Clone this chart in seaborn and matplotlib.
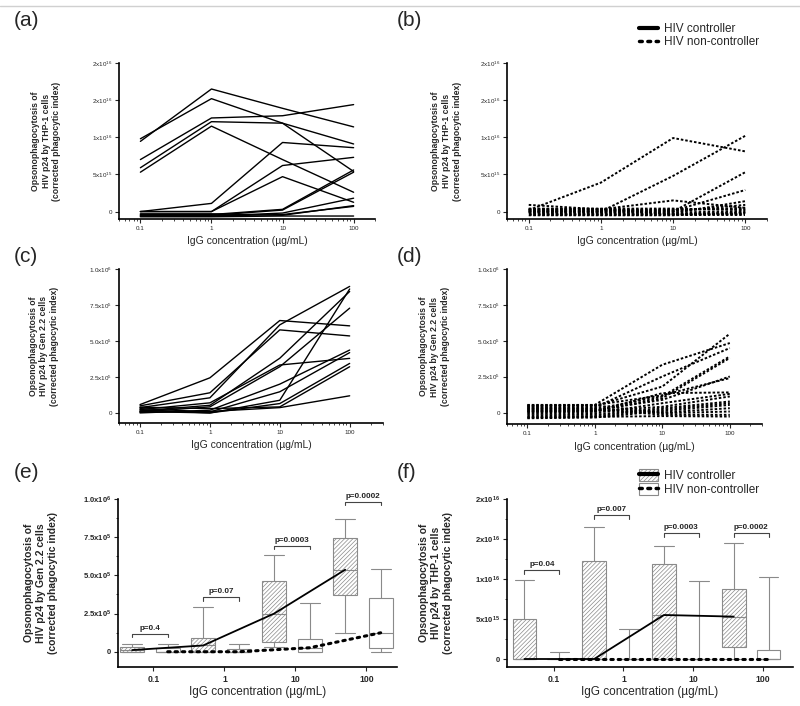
import matplotlib
matplotlib.use('Agg')
import numpy as np
import pandas as pd
import matplotlib.pyplot as plt
import seaborn as sns
from matplotlib.lines import Line2D
from matplotlib.patches import Patch

sns.set_style('ticks')
plt.rcParams['font.family'] = ['Liberation Sans', 'DejaVu Sans']
plt.rcParams['mathtext.default'] = 'regular'
plt.rcParams['hatch.linewidth'] = 0.5

# ---------------- data ----------------
conc = [0.1, 1, 10, 100]
conc_labels = ['0.1', '1', '10', '100']

thp_ticks = [0, 5e15, 1e16, 1.5e16, 2e16]
thp_labels = ['0', '5x10$^{15}$', '1x10$^{16}$', '2x10$^{16}$', '2x10$^{16}$']
gen_ticks = [0, 2.5e5, 5e5, 7.5e5, 1e6]
gen_labels = ['0', '2.5x10$^{5}$', '5.0x10$^{5}$', '7.5x10$^{5}$', '1.0x10$^{6}$']

# (a) THP-1, HIV controllers
a_ctrl = [
    [9.45e15, 1.65e16, 1.39e16, 1.14e16],
    [9.8e15, 1.52e16, 1.19e16, 5.4e15],
    [7.0e15, 1.26e16, 1.29e16, 1.44e16],
    [5.9e15, 1.21e16, 1.19e16, 9.1e15],
    [5.3e15, 1.15e16, 7.0e15, 2.6e15],
    [0.0, 1.1e15, 9.3e15, 8.6e15],
    [0.0, 0.0, 6.2e15, 7.3e15],
    [0.0, 0.0, 4.7e15, 1.25e15],
    [-4e14, -4e14, 3e14, 5.6e15],
    [-5e14, -5e14, 2e14, 5.3e15],
    [-6e14, -6e14, -2e14, 1.8e15],
    [-6e14, -6e14, -4e14, 7e14],
    [-7e14, -7e14, -6e14, -6e14],
    [-3e14, -3e14, -5e14, 8e14],
]
# (b) THP-1, HIV non-controllers
b_nonctrl = [
    [9e14, 3e14, 1.5e15, 5e14],
    [2e14, 3.9e15, 9.9e15, 8.1e15],
    [0.0, 0.0, 4.8e15, 1.02e16],
    [0.0, 0.0, 0.0, 5.3e15],
    [1e14, 1e14, 1e14, 2.9e15],
    [-1e14, -1e14, -2e14, 1.4e15],
    [3e14, 3e14, 2e14, 5e14],
    [4e14, 4e14, 4e14, 2e14],
    [-2e14, -2e14, -1e14, 0.0],
    [-3e14, -3e14, -3e14, -3e14],
    [-4e14, -4e14, -4e14, -4e14],
    [2e14, 2e14, 3e14, 3e14],
    [-5e14, -5e14, -5e14, -2e14],
    [3.5e14, 3.5e14, -3.5e14, -1e14],
    [5e13, 5e13, 5e13, 9e14],
]
# (c) Gen 2.2, HIV controllers
c_ctrl = [
    [58e3, 244e3, 642e3, 605e3],
    [49e3, 140e3, 577e3, 535e3],
    [37e3, 105e3, 612e3, 879e3],
    [23e3, 70e3, 333e3, 379e3],
    [14e3, 53e3, 380e3, 844e3],
    [7e3, 42e3, 321e3, 728e3],
    [0.0, 19e3, 200e3, 437e3],
    [30e3, 7e3, 147e3, 419e3],
    [10e3, 0.0, 88e3, 861e3],
    [20e3, 0.0, 65e3, 344e3],
    [40e3, 30e3, 42e3, 321e3],
    [5e3, 10e3, 37e3, 119e3],
]
# (d) Gen 2.2, HIV non-controllers
d_nonctrl = [
    [53e3, 53e3, 333e3, 484e3],
    [40e3, 45e3, 181e3, 549e3],
    [30e3, 35e3, 251e3, 449e3],
    [20e3, 25e3, 112e3, 391e3],
    [10e3, 15e3, 88e3, 251e3],
    [0.0, 5e3, 135e3, 140e3],
    [-10e3, -5e3, 65e3, 130e3],
    [-20e3, -15e3, 30e3, 77e3],
    [-30e3, -25e3, 20e3, 65e3],
    [-40e3, -35e3, 10e3, 53e3],
    [45e3, 50e3, 0.0, 30e3],
    [35e3, 30e3, -5e3, 7e3],
    [25e3, 20e3, -15e3, -16e3],
    [-35e3, -30e3, -25e3, -28e3],
    [5e3, 10e3, 40e3, 112e3],
    [50e3, 52e3, 120e3, 240e3],
    [15e3, 12e3, 100e3, 380e3],
]

# (e) Gen 2.2 box summaries
e_ctrl_lo = [0, 0, 30e3, 120e3]
e_ctrl_q1 = [0, 0, 63e3, 372e3]
e_ctrl_med = [11e3, 41e3, 250e3, 537e3]
e_ctrl_q3 = [33e3, 87e3, 463e3, 743e3]
e_ctrl_hi = [52e3, 290e3, 633e3, 867e3]
e_nc_lo = [0, 0, 0, 0]
e_nc_q1 = [0, 0, 0, 26e3]
e_nc_med = [0, 0, 26e3, 124e3]
e_nc_q3 = [26e3, 20e3, 83e3, 350e3]
e_nc_hi = [52e3, 52e3, 320e3, 543e3]
e_pvals = ['p=0.4', 'p=0.07', 'p=0.0003', 'p=0.0002']
e_bracket = [117e3, 357e3, 693e3, 983e3]

# (f) THP-1 box summaries
f_ctrl_lo = [0, 0, 0, 0]
f_ctrl_q1 = [0, 0, 0, 1.54e15]
f_ctrl_med = [0, 0, 5.5e15, 5.3e15]
f_ctrl_q3 = [5.05e15, 1.23e16, 1.19e16, 8.76e15]
f_ctrl_hi = [9.84e15, 1.65e16, 1.41e16, 1.45e16]
f_nc_lo = [0, 0, 0, 0]
f_nc_q1 = [0, 0, 0, 0]
f_nc_med = [0, 0, 0, 0]
f_nc_q3 = [0, 0, 0, 1.1e15]
f_nc_hi = [8.3e14, 3.7e15, 9.8e15, 1.02e16]
f_pvals = ['p=0.04', 'p=0.007', 'p=0.0003', 'p=0.0002']
f_bracket = [1.11e16, 1.8e16, 1.57e16, 1.57e16]

ylab_thp = 'Opsonophagocytosis of\nHIV p24 by THP-1 cells\n(corrected phagocytic index)'
ylab_gen = 'Opsonophagocytosis of\nHIV p24 by Gen 2.2 cells\n(corrected phagocytic index)'
xlab = 'IgG concentration (\u00b5g/mL)'

GREY = '#8a8a8a'
HATCH = '////////'
DOT = (0, (1.3, 1.0))

fig = plt.figure(figsize=(8, 7.06), dpi=100)
W, H = 800, 706


def add_ax(l, r, t, b):
    return fig.add_axes([l / W, 1 - b / H, (r - l) / W, (b - t) / H])


def style(ax, lab_size, bold):
    sns.despine(ax=ax)
    for s in ('left', 'bottom'):
        ax.spines[s].set_linewidth(1.2)
        ax.spines[s].set_color('black')
    ax.tick_params(which='major', length=3, width=0.8, labelsize=lab_size, pad=2)
    ax.tick_params(which='minor', length=1.6, width=0.6)
    if bold:
        for t in ax.get_xticklabels() + ax.get_yticklabels():
            t.set_fontweight('bold')


def line_panel(ax, series, ls, lw, xlim, ylim, yt, ytl, ylab, ylx):
    rows = [(i, c, v) for i, s in enumerate(series) for c, v in zip(conc, s)]
    df = pd.DataFrame(rows, columns=['id', 'conc', 'value'])
    sns.lineplot(data=df, x='conc', y='value', units='id', estimator=None,
                 color='black', lw=lw, linestyle=ls, ax=ax, legend=False)
    ax.set_xscale('log')
    ax.set_xlim(*xlim)
    ax.set_ylim(*ylim)
    ax.set_xticks(conc)
    ax.set_xticklabels(conc_labels)
    ax.set_yticks(yt)
    ax.set_yticklabels(ytl)
    ax.set_xlabel(xlab, fontsize=7.5, labelpad=4)
    ax.set_ylabel(ylab, fontsize=6.2, fontweight='bold', linespacing=1.25)
    ax.yaxis.set_label_coords(ylx, 0.5)
    style(ax, 4.5, False)


ax_a = add_ax(119, 375, 63, 219)
line_panel(ax_a, a_ctrl, '-', 1.0, (0.05, 200), (-1e15, 2e16), thp_ticks, thp_labels, ylab_thp, -0.225)
ax_b = add_ax(507, 767, 63, 219)
line_panel(ax_b, b_nonctrl, DOT, 1.4, (0.05, 200), (-1e15, 2e16), thp_ticks, thp_labels, ylab_thp, -0.175)
ax_c = add_ax(119, 383, 269, 423)
line_panel(ax_c, c_ctrl, '-', 1.0, (0.05, 300), (-7e4, 1e6), gen_ticks, gen_labels, ylab_gen, -0.227)
ax_d = add_ax(507, 762, 269, 424)
line_panel(ax_d, d_nonctrl, DOT, 1.4, (0.05, 300), (-8e4, 1e6), gen_ticks, gen_labels, ylab_gen, -0.224)


def stats(lo, q1, med, q3, hi):
    return [dict(whislo=a, q1=b, med=c, q3=d, whishi=e, fliers=[])
            for a, b, c, d, e in zip(lo, q1, med, q3, hi)]


def box_panel(ax, cst, nst, cmed, nmed, pvals, brk, tick_shift, xlim, ylim, yt, ytl, ylab, ylx, dy):
    idx = np.arange(len(conc))
    pc = idx - 0.25
    pn = idx + 0.25
    ax.bxp(cst, positions=pc, widths=0.34, capwidths=0.28, patch_artist=True,
           showfliers=False,
           boxprops=dict(facecolor='white', edgecolor=GREY, hatch=HATCH, lw=0.8),
           whiskerprops=dict(color=GREY, lw=0.8), capprops=dict(color=GREY, lw=0.8),
           medianprops=dict(color=GREY, lw=0.8))
    ax.bxp(nst, positions=pn, widths=0.34, capwidths=0.28, patch_artist=True,
           showfliers=False,
           boxprops=dict(facecolor='white', edgecolor=GREY, lw=0.8),
           whiskerprops=dict(color=GREY, lw=0.8), capprops=dict(color=GREY, lw=0.8),
           medianprops=dict(color=GREY, lw=0.8))
    sns.lineplot(x=pc, y=cmed, color='black', lw=1.3, ax=ax, zorder=4)
    sns.lineplot(x=pn, y=nmed, color='black', lw=2.2, linestyle=(0, (0.8, 1.6)),
                 dash_capstyle='round', ax=ax, zorder=4)
    for i in idx:
        h = brk[i]
        ax.plot([pc[i], pc[i], pn[i], pn[i]], [h - dy, h, h, h - dy], color='#444444',
                lw=0.8, clip_on=False)
        ax.text(idx[i], h + dy * 0.6, pvals[i], ha='center', va='bottom', fontsize=5.8,
                fontweight='bold', color='#222222')
    ax.set_xlim(*xlim)
    ax.set_ylim(*ylim)
    ax.set_xticks(idx + tick_shift)
    ax.set_xticklabels(conc_labels)
    ax.set_yticks(yt)
    ax.set_yticklabels(ytl)
    ax.set_yticks([(yt[k] + yt[k + 1]) / 2 for k in range(len(yt) - 1)], minor=True)
    ax.set_xlabel(xlab, fontsize=8.5, labelpad=1)
    ax.set_ylabel(ylab, fontsize=7.5, fontweight='bold', linespacing=1.25)
    ax.yaxis.set_label_coords(ylx, 0.5)
    style(ax, 5.5, True)
    ax.tick_params(axis='x', which='major', labelsize=6.2, pad=3)


ax_e = add_ax(118, 397, 499, 667)
box_panel(ax_e, stats(e_ctrl_lo, e_ctrl_q1, e_ctrl_med, e_ctrl_q3, e_ctrl_hi),
          stats(e_nc_lo, e_nc_q1, e_nc_med, e_nc_q3, e_nc_hi),
          e_ctrl_med, e_nc_med, e_pvals, e_bracket, 0.05, (-0.45, 3.48), (-1e5, 1e6),
          gen_ticks, gen_labels, ylab_gen, -0.215, 2.2e4)
ax_f = add_ax(507, 793, 499, 667)
box_panel(ax_f, stats(f_ctrl_lo, f_ctrl_q1, f_ctrl_med, f_ctrl_q3, f_ctrl_hi),
          stats(f_nc_lo, f_nc_q1, f_nc_med, f_nc_q3, f_nc_hi),
          f_ctrl_med, f_nc_med, f_pvals, f_bracket, 0.17, (-0.5, 3.6), (-1e15, 2e16),
          thp_ticks, thp_labels, ylab_thp, -0.19, 4.5e14)

# panel letters
for lab, x, y in [('(a)', 14, 11), ('(b)', 397, 11), ('(c)', 14, 247),
                  ('(d)', 397, 247), ('(e)', 14, 463), ('(f)', 397, 463)]:
    fig.text(x / W, 1 - y / H, lab, fontsize=15, ha='left', va='top')

# legends
h_ctrl = Line2D([], [], color='black', lw=3)
h_nc = Line2D([], [], color='black', lw=2.5, linestyle=(0, (0.8, 1.6)), dash_capstyle='round')
fig.legend([h_ctrl, h_nc], ['HIV controller', 'HIV non-controller'],
           loc='upper left', bbox_to_anchor=(632 / W, 1 - 16 / H), frameon=False,
           fontsize=8.5, handlelength=1.6, handletextpad=0.5, labelspacing=0.1,
           borderpad=0.1)
p_ctrl = Patch(facecolor='white', edgecolor=GREY, hatch=HATCH, lw=0.8)
p_nc = Patch(facecolor='white', edgecolor=GREY, lw=0.8)
fig.legend([(p_ctrl, h_ctrl), (p_nc, h_nc)], ['HIV controller', 'HIV non-controller'],
           loc='upper left', bbox_to_anchor=(632 / W, 1 - 462 / H), frameon=False,
           fontsize=8.5, handlelength=1.6, handleheight=1.2, handletextpad=0.5,
           labelspacing=0.1, borderpad=0.1)

fig.add_artist(Line2D([0, 1], [1 - 6 / H, 1 - 6 / H], color='#d0d0d0', lw=1))

fig.savefig('out.png', dpi=100)
